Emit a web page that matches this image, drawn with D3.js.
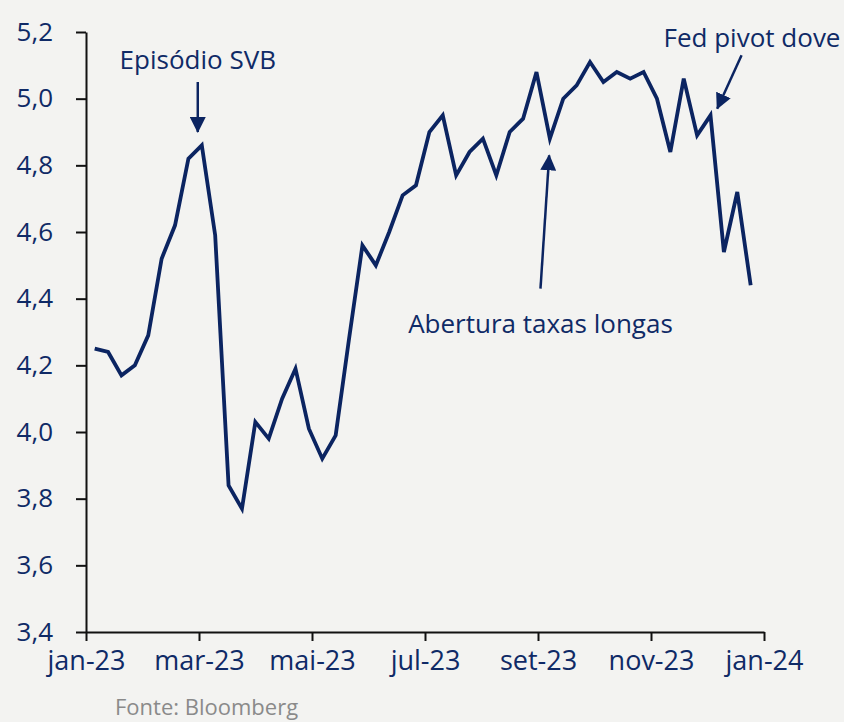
<!DOCTYPE html>
<html>
<head>
<meta charset="utf-8">
<script src="https://d3js.org/d3.v7.min.js"></script>
<style>
  body { margin: 0; background: #f3f3f1; }
  svg { display: block; font-family: "Open Sans", sans-serif; }
  .axis .domain, .axis line { stroke: #111; stroke-width: 2; }
  .axis text { fill: #0f2a66; font-size: 26px; font-family: "Open Sans", sans-serif; }
  .note { fill: #0f2a66; font-size: 26px; }
</style>
</head>
<body>
<script>
// weekly yields, jan-23 .. dez-23
const yields = [4.25, 4.24, 4.17, 4.20, 4.29, 4.52, 4.62, 4.82, 4.86, 4.59,
                3.84, 3.77, 4.03, 3.98, 4.10, 4.19, 4.01, 3.92, 3.99, 4.28,
                4.56, 4.50, 4.60, 4.71, 4.74, 4.90, 4.95, 4.77, 4.84, 4.88,
                4.77, 4.90, 4.94, 5.08, 4.88, 5.00, 5.04, 5.11, 5.05, 5.08,
                5.06, 5.08, 5.00, 4.84, 5.06, 4.89, 4.95, 4.54, 4.72, 4.44];
const monthTicks = [0, 2, 4, 6, 8, 10, 12];
const monthLabels = ['jan-23', 'mar-23', 'mai-23', 'jul-23', 'set-23', 'nov-23', 'jan-24'];
const yTicks = [3.4, 3.6, 3.8, 4.0, 4.2, 4.4, 4.6, 4.8, 5.0, 5.2];

// annotations in data coords: [point index, value]
const notes = [
  { text: 'Episódio SVB', at: [7.7, 5.09], from: [7.7, 5.05], to: [7.7, 4.90] },
  { text: 'Abertura taxas longas', at: [33.3, 4.296], from: [33.3, 4.43], to: [33.95, 4.83] },
  { text: 'Fed pivot dove', at: [49.1, 5.156], from: [48.32, 5.13], to: [46.5, 4.97] }
];

const width = 844, height = 722;
const svg = d3.select('body').append('svg')
  .attr('width', width)
  .attr('height', height);

svg.append('rect').attr('width', width).attr('height', height).attr('fill', '#f3f3f1');

// month scale for the axis, point scale for the weekly series
const x = d3.scaleLinear().domain([0, 12]).range([86, 764]);
const xi = d3.scaleLinear().domain([0, yields.length - 1]).range([x(0.154), x(11.764)]);
const y = d3.scaleLinear().domain([3.4, 5.2]).range([632, 32]);

const comma = d => d3.format('.1f')(d).replace('.', ',');

svg.append('g')
  .attr('class', 'axis')
  .attr('transform', `translate(${x(0)},0)`)
  .call(d3.axisLeft(y).tickValues(yTicks).tickFormat(comma).tickSize(10).tickSizeOuter(0).tickPadding(23));

svg.append('g')
  .attr('class', 'axis')
  .attr('transform', `translate(0,${y(3.4)})`)
  .call(d3.axisBottom(x).tickValues(monthTicks).tickFormat((d, i) => monthLabels[i]).tickSize(9).tickSizeOuter(0).tickPadding(10))
  .selectAll('text').style('font-size', '27px');

const line = d3.line()
  .x((d, i) => xi(i))
  .y(d => y(d));

svg.append('path')
  .datum(yields)
  .attr('fill', 'none')
  .attr('stroke', '#0b2461')
  .attr('stroke-width', 3.8)
  .attr('stroke-linejoin', 'miter')
  .attr('d', line);

// arrowhead
svg.append('defs').append('marker')
  .attr('id', 'head')
  .attr('markerUnits', 'userSpaceOnUse')
  .attr('viewBox', '0 0 16 16')
  .attr('refX', 15).attr('refY', 8)
  .attr('markerWidth', 16).attr('markerHeight', 16)
  .attr('orient', 'auto')
  .append('path')
  .attr('d', 'M0,0 L16,8 L0,16 Z')
  .attr('fill', '#0b2461');

notes.forEach(n => {
  svg.append('line')
    .attr('x1', xi(n.from[0])).attr('y1', y(n.from[1]))
    .attr('x2', xi(n.to[0])).attr('y2', y(n.to[1]))
    .attr('stroke', '#0b2461')
    .attr('stroke-width', 2.5)
    .attr('marker-end', 'url(#head)');
  svg.append('text')
    .attr('class', 'note')
    .attr('x', xi(n.at[0]))
    .attr('y', y(n.at[1]))
    .attr('text-anchor', 'middle')
    .text(n.text);
});

svg.append('text')
  .attr('x', 115)
  .attr('y', 715)
  .attr('fill', '#8a8a8a')
  .attr('font-size', 22)
  .text('Fonte: Bloomberg');
</script>
</body>
</html>
